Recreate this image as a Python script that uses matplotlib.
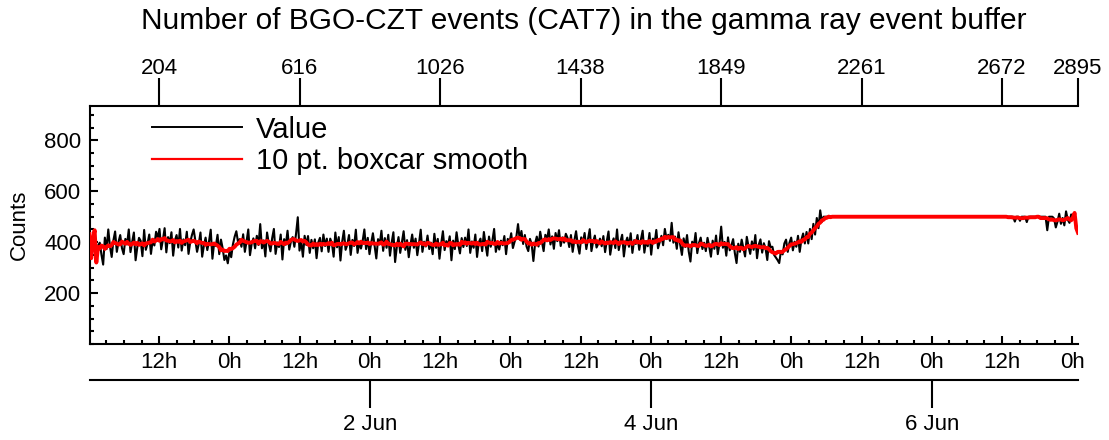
import numpy as np
import pandas as pd
import matplotlib
matplotlib.use('Agg')
import matplotlib.pyplot as plt
from matplotlib.lines import Line2D
from matplotlib.ticker import MultipleLocator

plt.rcParams['font.family'] = ['Liberation Sans', 'DejaVu Sans']

# sampling: one value every 3.5 min, first sample 31 May 00:06 (hours since 31 May 00:00)
t_first_h = 0.1
sample_h = 3.5 / 60.0
step = 5  # every 5th sample

# Value, read every 5th sample (rows of 100 samples)
value_counts = (
    [432, 337, 411, 447, 320, 387, 398, 351, 312, 418, 373, 450, 383, 342, 407, 442, 362, 401, 428, 377]
    + [353, 413, 391, 450, 361, 401, 438, 329, 380, 417, 405, 345, 448, 370, 395, 430, 354, 408, 387, 441]
    + [416, 452, 372, 409, 455, 360, 420, 396, 439, 347, 406, 428, 379, 452, 367, 411, 388, 441, 354, 400]
    + [428, 450, 406, 362, 393, 438, 343, 387, 418, 369, 403, 449, 335, 397, 385, 429, 353, 410, 376, 330]
    + [348, 317, 365, 341, 391, 421, 443, 400, 412, 382, 431, 362, 403, 450, 349, 394, 415, 376, 425, 389]
    + [471, 376, 407, 344, 438, 395, 364, 416, 452, 354, 399, 381, 430, 332, 412, 390, 445, 371, 403, 420]
    + [382, 434, 498, 367, 404, 343, 425, 389, 424, 358, 409, 376, 411, 337, 399, 417, 364, 430, 385, 414]
    + [362, 414, 395, 343, 438, 380, 420, 328, 402, 445, 370, 390, 428, 350, 409, 385, 449, 358, 398, 375]
    + [405, 450, 373, 417, 353, 397, 435, 385, 336, 412, 391, 445, 366, 416, 378, 429, 347, 399, 439, 322]
    + [381, 420, 358, 401, 443, 370, 408, 341, 390, 430, 378, 414, 349, 395, 449, 362, 402, 383, 426, 373]
    + [398, 353, 433, 378, 413, 335, 394, 443, 369, 404, 388, 423, 329, 406, 373, 439, 390, 356, 416, 381]
    + [418, 385, 450, 358, 403, 378, 430, 342, 399, 414, 365, 440, 390, 347, 422, 382, 406, 452, 362, 396]
    + [371, 406, 388, 424, 353, 413, 397, 435, 377, 402, 420, 471, 410, 444, 393, 428, 383, 365, 413, 392]
    + [326, 395, 422, 383, 441, 401, 365, 429, 412, 450, 391, 423, 374, 436, 404, 447, 385, 419, 398, 433]
    + [417, 381, 428, 362, 407, 443, 389, 355, 419, 398, 436, 373, 411, 451, 365, 402, 426, 379, 394, 414]
    + [384, 424, 361, 404, 442, 351, 394, 415, 377, 450, 369, 403, 429, 344, 397, 418, 382, 435, 358, 408]
    + [393, 428, 370, 411, 445, 359, 404, 384, 436, 351, 414, 396, 448, 376, 401, 425, 388, 452, 412, 429]
    + [405, 476, 398, 422, 374, 439, 390, 350, 415, 381, 428, 363, 324, 402, 384, 436, 357, 397, 418, 373]
    + [398, 365, 417, 382, 343, 406, 374, 426, 353, 394, 461, 378, 401, 347, 419, 368, 388, 412, 357, 318]
    + [394, 362, 410, 377, 344, 421, 384, 354, 403, 370, 428, 337, 390, 411, 359, 396, 375, 330, 404, 380]
    + [382, 350, 340, 330, 318, 366, 352, 395, 410, 362, 398, 418, 368, 402, 382, 425, 362, 410, 434, 395]
    + [440, 395, 452, 412, 472, 430, 495, 455, 525, 480, 500, 500, 500, 500, 500, 500, 500, 500, 500, 500]
    + [500] * 100
    + [500, 500, 481, 500, 500, 484, 500, 500, 500, 479, 500, 500, 500, 500, 500, 500, 500, 500, 500, 500]
    + [500, 447, 500, 500, 500, 493, 458, 481, 512, 472, 495, 466, 521, 488, 476, 509, 497, 515, 455, 437]
)

top_ticks = [204, 616, 1026, 1438, 1849, 2261, 2672, 2895]
hour_ticks = list(range(12, 169, 12))
date_hours = [48, 96, 144]
date_labels = ['2 Jun', '4 Jun', '6 Jun']

value = np.array(value_counts, dtype=float)
sample_idx = np.arange(len(value)) * step
t = t_first_h + sample_idx * sample_h
# 10 pt boxcar, edges left unsmoothed
smooth = pd.Series(value).rolling(10, center=True).mean().fillna(pd.Series(value)).to_numpy()

fig = plt.figure(figsize=(11.09, 4.40), dpi=100)
ax = fig.add_axes([89.5 / 1109, 96 / 440, 988.5 / 1109, 238 / 440])

ax.plot(t, value, color='black', lw=1.5, zorder=2)
ax.plot(t, smooth, color='red', lw=2.8, zorder=3)
ax.set_xlim(t[0], t[-1])
ax.set_ylim(0, 935)

ax.spines['right'].set_visible(False)
ax.spines['top'].set_visible(False)
for s in ['left', 'bottom']:
    ax.spines[s].set_linewidth(1.5)

fs = 16
ax.set_yticks([200, 400, 600, 800])
ax.yaxis.set_minor_locator(MultipleLocator(50))
ax.set_xticks(hour_ticks, labels=['12h' if h % 24 else '0h' for h in hour_ticks])
ax.xaxis.set_minor_locator(MultipleLocator(3))
ax.tick_params(which='major', direction='in', length=5.8, width=1.5, labelsize=fs, pad=6)
ax.tick_params(which='minor', direction='in', length=3, width=1.5)
ax.tick_params(axis='x', top=False, which='both')
ax.tick_params(axis='y', right=False, which='both')

ax.set_ylabel('Counts', fontsize=fs)
ax.yaxis.set_label_coords(-0.060, 0.5)

i2h = lambda i: t_first_h + np.asarray(i) * sample_h
h2i = lambda h: (np.asarray(h) - t_first_h) / sample_h

top = ax.secondary_xaxis('top', functions=(h2i, i2h))
top.set_xticks(top_ticks)
top.tick_params(direction='out', length=20, width=1.5, labelsize=fs, pad=-0.5)
top.spines['top'].set_linewidth(1.5)

dates = ax.secondary_xaxis(-0.152)
dates.set_xticks(date_hours, labels=date_labels)
dates.tick_params(direction='out', length=20, width=1.5, labelsize=fs, pad=4.5)
dates.spines['bottom'].set_linewidth(1.5)

fig.text(0.5265, 1 - 29 / 440, 'Number of BGO-CZT events (CAT7) in the gamma ray event buffer',
         ha='center', va='baseline', fontsize=21.5)

handles = [Line2D([], [], color='black', lw=1.4), Line2D([], [], color='red', lw=1.6)]
ax.legend(handles, ['Value', '10 pt. boxcar smooth'], loc='upper left',
          bbox_to_anchor=(0.0632, 0.96), frameon=False, fontsize=21,
          handlelength=3.1, handletextpad=0.45, labelspacing=0.12,
          borderpad=0, borderaxespad=0)

fig.savefig('out.png', dpi=100)
